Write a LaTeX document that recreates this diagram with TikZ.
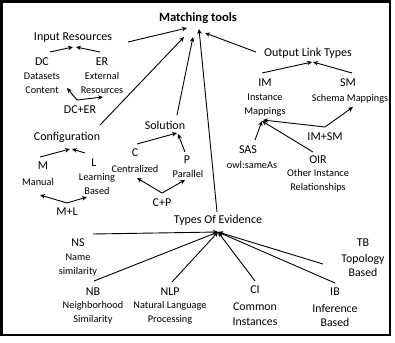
\documentclass[tikz,border=0pt]{standalone}
\usepackage{fontspec}
\setmainfont{Carlito}
\usetikzlibrary{arrows.meta}
\begin{document}
\begin{tikzpicture}[x=1pt,y=-1pt,
  lab/.style={font=\fontsize{12}{13}\selectfont, inner sep=0pt, align=center},
  sub/.style={font=\fontsize{10.3}{14}\selectfont, inner sep=0pt, align=center},
  subb/.style={font=\fontsize{11.8}{14.5}\selectfont, inner sep=0pt, align=center},
  arr/.style={-{Stealth[length=5pt,width=4.5pt]}, line width=0.9pt},
  ln/.style={line width=0.9pt}]
\useasboundingbox (0,0) rectangle (395,342);
\draw[line width=2.6pt] (1.3,1.3) rectangle (390,335);
% nodes
\node[lab,font=\bfseries\fontsize{12.6}{13}\selectfont] (mt) at (198,18) {Matching tools};
\node[lab] (ir) at (73,38) {Input Resources};
\node[lab] (dc) at (42,62) {DC};
\node[sub] (dcs) at (42,83) {Datasets\\Content};
\node[lab] (er) at (102,62) {ER};
\node[sub] (ers) at (102,83) {External\\Resources};
\node[lab] (dcer) at (80,110) {DC+ER};
\node[lab] (conf) at (67,137) {Configuration};
\node[lab] (m) at (43,166) {M};
\node[sub] (ms) at (38,182) {Manual};
\node[lab] (l) at (94,163) {L};
\node[sub] (ls) at (97,184) {Learning\\Based};
\node[lab] (ml) at (67,212) {M+L};
\node[lab] (sol) at (165,125) {Solution};
\node[lab] (c) at (135,153) {C};
\node[sub] (cs) at (135,169) {Centralized};
\node[lab] (p) at (187,160) {P};
\node[sub] (ps) at (188,174) {Parallel};
\node[lab] (cp) at (162,203) {C+P};
\node[lab] (toe) at (218,220) {Types Of Evidence};
\node[lab] (ns) at (78,243) {NS};
\node[sub] (nss) at (78,265) {Name\\similarity};
\node[lab] (nb) at (93,292) {NB};
\node[sub] (nbs) at (93,313) {Neighborhood\\Similarity};
\node[lab] (nlp) at (170,292) {NLP};
\node[sub] (nlps) at (170,313) {Natural Language\\Processing};
\node[lab] (ci) at (255,290) {CI};
\node[subb] (cis) at (255,314) {Common\\Instances};
\node[lab] (ib) at (335,292) {IB};
\node[subb] (ibs) at (335,315.5) {Inference\\Based};
\node[lab] (tb) at (363,243) {TB};
\node[subb] (tbs) at (363,265.5) {Topology\\Based};
\node[lab] (olt) at (308,53) {Output Link Types};
\node[lab] (im) at (265,83) {IM};
\node[sub] (ims) at (265,105) {Instance\\Mappings};
\node[lab] (sm) at (348,83) {SM};
\node[sub] (sms) at (350,99) {Schema Mappings};
\node[lab] (imsm) at (325,137) {IM+SM};
\node[lab] (sas) at (248,150) {SAS};
\node[sub] (sass) at (252,165) {owl:sameAs};
\node[lab] (oir) at (318,160) {OIR};
\node[sub] (oirs) at (318,181) {Other Instance\\Relationships};
% connector end points
\coordinate (mt1) at (187,28);
\coordinate (mt2) at (184,37);
\coordinate (mt3) at (193,37);
\coordinate (mt4) at (199,29);
\coordinate (mt5) at (205,33);
\coordinate (ir0) at (128,42);
\coordinate (conf0) at (100,125);
\coordinate (sol0) at (177,115);
\coordinate (toe0) at (217,212);
\coordinate (olt0) at (256,52);
\coordinate (irA) at (73,47);
\coordinate (irB) at (76,47);
\coordinate (dc0) at (50,52);
\coordinate (er0) at (100,52);
\coordinate (dcer0) at (77,100);
\coordinate (dcsT) at (67,88);
\coordinate (ersT) at (103,97);
\coordinate (m0) at (40,157);
\coordinate (l0) at (85,153);
\coordinate (confA) at (70,149);
\coordinate (confB) at (72,149);
\coordinate (ml0) at (67,203);
\coordinate (msT) at (40,195);
\coordinate (lsT) at (87,197);
\coordinate (c0) at (137,144);
\coordinate (p0) at (185,152);
\coordinate (solA) at (177,133);
\coordinate (solB) at (178,134);
\coordinate (cp0) at (162,193);
\coordinate (csT) at (137,178);
\coordinate (psT) at (185,180);
\coordinate (im0) at (262,73);
\coordinate (sm0) at (352,73);
\coordinate (oltA) at (312,62);
\coordinate (oltB) at (313,62);
\coordinate (imsm0) at (325,127);
\coordinate (smsT) at (353,107);
\coordinate (imsT) at (263,120);
\coordinate (sas0) at (255,140);
\coordinate (oir0) at (313,152);
\coordinate (imsT2) at (262,121);
\coordinate (ev) at (218,232);
\coordinate (ns0) at (93,234);
\coordinate (nb0) at (94,281);
\coordinate (nlp0) at (172,282);
\coordinate (ci0) at (255,281);
\coordinate (ib0) at (335,283);
\coordinate (tb0) at (323,264);
% connectors
\draw[arr] (ir0) -- (mt1);
\draw[arr] (conf0) -- (mt2);
\draw[arr] (sol0) -- (mt3);
\draw[arr] (toe0) -- (mt4);
\draw[arr] (olt0) -- (mt5);
\draw[arr] (dc0) -- (irA);
\draw[arr] (er0) -- (irB);
\draw[arr] (dcer0) -- (dcsT);
\draw[arr] (dcer0) -- (ersT);
\draw[arr] (m0) -- (confA);
\draw[arr] (l0) -- (confB);
\draw[arr] (ml0) -- (msT);
\draw[arr] (ml0) -- (lsT);
\draw[arr] (c0) -- (solA);
\draw[arr] (p0) -- (solB);
\draw[arr] (cp0) -- (csT);
\draw[arr] (cp0) -- (psT);
\draw[arr] (im0) -- (oltA);
\draw[arr] (sm0) -- (oltB);
\draw[arr] (imsm0) -- (smsT);
\draw[arr] (imsm0) -- (imsT);
\draw[arr] (sas0) -- (imsT2);
\draw[arr] (oir0) -- (imsT2);
\draw[arr] (ns0) -- (ev);
\draw[arr] (nb0) -- (ev);
\draw[arr] (nlp0) -- (ev);
\draw[arr] (ci0) -- (ev);
\draw[arr] (ib0) -- (ev);
\draw[arr] (tb0) -- (ev);
\end{tikzpicture}
\end{document}
